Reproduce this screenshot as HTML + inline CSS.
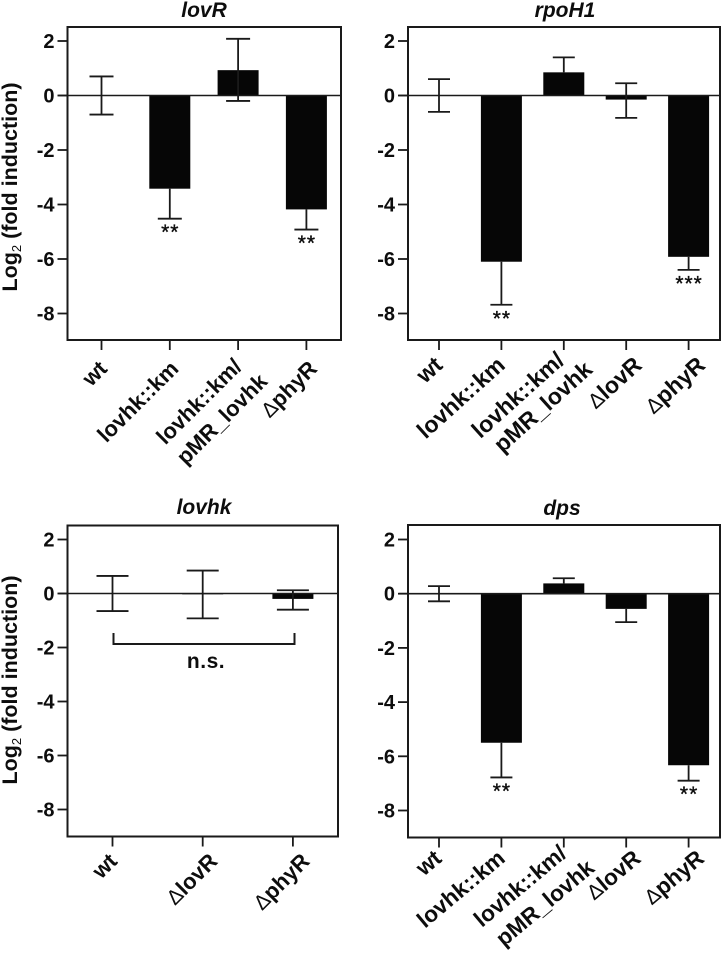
<!DOCTYPE html>
<html>
<head>
<meta charset="utf-8">
<title>Log2 fold induction panels</title>
<style>
  html, body { margin: 0; padding: 0; background: #fff; }
  svg { display: block; }
  text { font-family: "Liberation Sans", Arial, sans-serif; fill: #0d0d0d; font-weight: bold; }
</style>
</head>
<body>
<svg id="chart" xmlns="http://www.w3.org/2000/svg" width="722" height="955" viewBox="0 0 722 955"></svg>
<script>
var yTickValues = [2, 0, -2, -4, -6, -8];

var lovRCategories = ['wt', 'lovhk::km', 'lovhk::km/|pMR_lovhk', '\u0394phyR'];
var lovRMeans = [0, -3.42, 0.93, -4.18];
var lovRErrHigh = [0.7, -3.42, 2.08, -4.18];
var lovRErrLow = [-0.7, -4.52, -0.2, -4.92];
var lovRStars = ['', '**', '', '**'];

var rpoH1Categories = ['wt', 'lovhk::km', 'lovhk::km/|pMR_lovhk', '\u0394lovR', '\u0394phyR'];
var rpoH1Means = [0, -6.1, 0.85, -0.15, -5.92];
var rpoH1ErrHigh = [0.6, -6.1, 1.4, 0.45, -5.92];
var rpoH1ErrLow = [-0.6, -7.68, 0.85, -0.82, -6.4];
var rpoH1Stars = ['', '**', '', '', '***'];

var lovhkCategories = ['wt', '\u0394lovR', '\u0394phyR'];
var lovhkMeans = [0, -0.03, -0.2];
var lovhkErrHigh = [0.65, 0.85, 0.12];
var lovhkErrLow = [-0.65, -0.92, -0.6];
var lovhkStars = ['', '', ''];

var dpsCategories = ['wt', 'lovhk::km', 'lovhk::km/|pMR_lovhk', '\u0394lovR', '\u0394phyR'];
var dpsMeans = [0, -5.5, 0.38, -0.56, -6.33];
var dpsErrHigh = [0.28, -5.5, 0.57, -0.56, -6.33];
var dpsErrLow = [-0.28, -6.78, 0.38, -1.05, -6.9];
var dpsStars = ['', '**', '', '', '**'];

var NS = 'http://www.w3.org/2000/svg';
var svg = document.getElementById('chart');

function make(parent, tag, attrs, txt) {
  var el = document.createElementNS(NS, tag);
  for (var k in attrs) { el.setAttribute(k, attrs[k]); }
  if (txt !== undefined) { el.textContent = txt; }
  parent.appendChild(el);
  return el;
}

function addCategoryText(node, str) {
  // the delta glyph is light and smaller than the bold label text
  if (str.charAt(0) === '\u0394') {
    var d = make(node, 'tspan', { style: 'font-weight:normal', 'font-size': '21' }, '\u0394');
    
    
    str = str.slice(1);
  }
  var t = make(node, 'tspan', {}, str);
  
  
}

function drawPanel(p) {
  var g = make(svg, 'g', {});
  
  

  function yScale(v) { return p.zeroY - v * p.unit; }
  function xScale(i) { return p.firstX + i * p.step; }

  var title = make(g, 'text', { x: p.titleX, y: p.titleY, 'text-anchor': 'middle', 'font-size': '21', 'font-style': 'italic' }, p.title);
  
  

  // bars
  p.means.forEach(function (m, i) {
    var top = Math.min(yScale(m), yScale(0));
    var h = Math.abs(yScale(m) - yScale(0));
    var bar = make(g, 'rect', { x: xScale(i) - 20.5, y: top, width: 41, height: h, fill: '#060606' });
    
    
  });

  // zero line
  var zero = make(g, 'line', { x1: p.left - 9, x2: p.right, y1: yScale(0), y2: yScale(0), stroke: '#1a1a1a', 'stroke-width': 1.6 });
  
  

  // error bars
  p.means.forEach(function (m, i) {
    var x = xScale(i);
    var hi = p.errHigh[i], lo = p.errLow[i];
    var stem = make(g, 'line', { x1: x, x2: x, y1: yScale(hi), y2: yScale(lo), stroke: '#1a1a1a', 'stroke-width': 1.8 });
    
    
    if (hi !== m) {
      var capH = make(g, 'line', { x1: x - p.cap / 2, x2: x + p.cap / 2, y1: yScale(hi), y2: yScale(hi), stroke: '#1a1a1a', 'stroke-width': 1.8 });
      
      
    }
    if (lo !== m) {
      var capL = make(g, 'line', { x1: x - p.cap / 2, x2: x + p.cap / 2, y1: yScale(lo), y2: yScale(lo), stroke: '#1a1a1a', 'stroke-width': 1.8 });
      
      
    }
    if (p.stars[i]) {
      var st = make(g, 'text', { x: x + 0.5, y: yScale(lo) + 20.5, 'text-anchor': 'middle', 'font-size': '21', style: 'font-weight:normal;stroke:#0d0d0d;stroke-width:0.35', 'letter-spacing': '1' }, p.stars[i]);
      
      
    }
  });

  // frame
  var frame = make(g, 'rect', { x: p.left, y: p.top, width: p.right - p.left, height: p.bottom - p.top, fill: 'none', stroke: '#1a1a1a', 'stroke-width': 2 });
  
  

  // y axis
  yTickValues.forEach(function (v) {
    var tick = make(g, 'line', { x1: p.left - 10, x2: p.left, y1: yScale(v), y2: yScale(v), stroke: '#1a1a1a', 'stroke-width': 1.8 });
    
    
    var lab = make(g, 'text', { x: p.left - 13, y: yScale(v) + 7, 'text-anchor': 'end', 'font-size': '20' }, String(v));
    
    
  });

  // x axis
  p.categories.forEach(function (c, i) {
    var x = xScale(i);
    var tick = make(g, 'line', { x1: x, x2: x, y1: p.bottom, y2: p.bottom + 10, stroke: '#1a1a1a', 'stroke-width': 1.8 });
    
    
    var lines = c.split('|');
    var labelGroup = make(g, 'text', {
      transform: 'translate(' + (x + p.labelShift[i]) + ',' + (p.bottom + p.labelDrop) + ') rotate(' + p.labelAngle + ')',
      'text-anchor': 'end', 'font-size': p.labelSize
    });
    
    
    if (lines.length === 1) {
      addCategoryText(labelGroup, lines[0]);
    } else {
      var first = make(labelGroup, 'tspan', { x: p.firstRow.x, y: p.firstRow.y });
      
      
      addCategoryText(first, lines[0]);
      var second = make(labelGroup, 'tspan', { x: p.secondRow.x, y: p.secondRow.y });
      
      
      addCategoryText(second, lines[1]);
    }
  });

  // y axis title
  if (p.yTitleY) {
    var yt = make(g, 'text', {
      transform: 'translate(17,' + p.yTitleY + ') rotate(-90)',
      'text-anchor': 'middle', 'font-size': '21.5'
    });
    
    
    var a = make(yt, 'tspan', {}, 'Log');
    
    
    var b = make(yt, 'tspan', { 'font-size': '13', style: 'font-weight:normal', dy: '4' }, '2');
    
    
    var c2 = make(yt, 'tspan', { dy: '-4' }, ' (fold induction)');
    
    
  }
}

drawPanel({
  title: 'lovR', titleX: 204, titleY: 17,
  left: 67.5, right: 341, top: 27, bottom: 340, zeroY: 95.5, unit: 27.25,
  firstX: 101.5, step: 68.3, cap: 24, yTitleY: 187,
  labelShift: [7, 10, 10, 12], labelDrop: 30, labelAngle: -45, labelSize: 22,
  firstRow: { x: -2, y: -5 }, secondRow: { x: 5.5, y: 23.5 },
  categories: lovRCategories, means: lovRMeans, errHigh: lovRErrHigh, errLow: lovRErrLow, stars: lovRStars
});
drawPanel({
  title: 'rpoH1', titleX: 565, titleY: 17,
  left: 408, right: 720, top: 27, bottom: 340, zeroY: 95.5, unit: 27.25,
  firstX: 439, step: 62.4, cap: 22, yTitleY: 0,
  labelShift: [5, 5, 5, 17, 18], labelDrop: 27, labelAngle: -42, labelSize: 23,
  firstRow: { x: 1, y: -5.5 }, secondRow: { x: 15.5, y: 20 },
  categories: rpoH1Categories, means: rpoH1Means, errHigh: rpoH1ErrHigh, errLow: rpoH1ErrLow, stars: rpoH1Stars
});
drawPanel({
  title: 'lovhk', titleX: 204, titleY: 514,
  left: 67.5, right: 338, top: 525.5, bottom: 836.5, zeroY: 593.5, unit: 27,
  firstX: 112.5, step: 90.2, cap: 32, yTitleY: 680,
  labelShift: [6, 16, 18], labelDrop: 26, labelAngle: -45, labelSize: 22,
  firstRow: { x: 0, y: 0 }, secondRow: { x: 0, y: 24 },
  categories: lovhkCategories, means: lovhkMeans, errHigh: lovhkErrHigh, errLow: lovhkErrLow, stars: lovhkStars
});
drawPanel({
  title: 'dps', titleX: 562, titleY: 515,
  left: 408, right: 720, top: 525, bottom: 837.5, zeroY: 593.7, unit: 27.1,
  firstX: 439, step: 62.4, cap: 22, yTitleY: 0,
  labelShift: [4, 5, 7, 16, 17], labelDrop: 23, labelAngle: -40, labelSize: 22.5,
  firstRow: { x: 1, y: -5.5 }, secondRow: { x: 13, y: 23.5 },
  categories: dpsCategories, means: dpsMeans, errHigh: dpsErrHigh, errLow: dpsErrLow, stars: dpsStars
});

// n.s. bracket in the lovhk panel
var bracket = make(svg, 'path', { d: 'M113.5 633 V644 H294.5 V633', fill: 'none', stroke: '#1a1a1a', 'stroke-width': 2 });


var ns = make(svg, 'text', { x: 206, y: 668, 'text-anchor': 'middle', 'font-size': '21', 'letter-spacing': '0.5' }, 'n.s.');


</script>
</body>
</html>
